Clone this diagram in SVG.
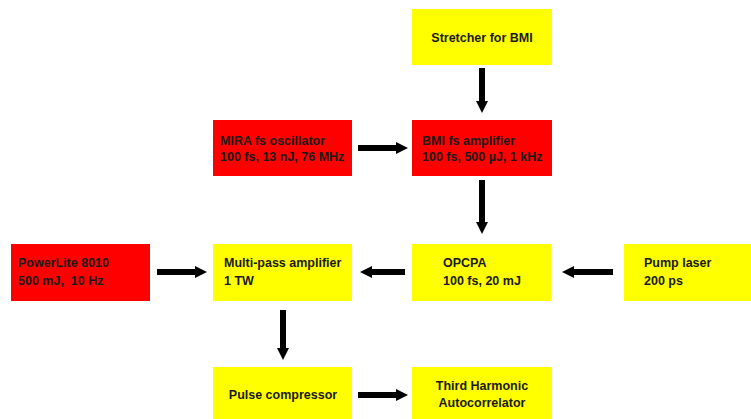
<svg xmlns="http://www.w3.org/2000/svg" width="751" height="419" viewBox="0 0 751 419">
<style>
.y{fill:#ffff00}
.r{fill:#ff0000}
text{font-family:"Liberation Sans",Arial,sans-serif;font-weight:bold;font-size:12.5px;fill:#1a1a1a}
.c{text-anchor:middle}
.a{stroke:#000;stroke-width:6;fill:none}
</style>
<defs>
<marker id="h" viewBox="0 0 12 12" refX="0" refY="6" markerWidth="12" markerHeight="12" orient="auto" markerUnits="userSpaceOnUse">
<path d="M0,0 L12,6 L0,12 Z" fill="#000"/>
</marker>
</defs>
<rect width="751" height="419" fill="#fff"/>
<g id="stretcher"><rect class="y" x="412" y="9" width="140" height="56"/><text class="c" x="482" y="42">Stretcher for BMI</text></g>
<g id="mira"><rect class="r" x="213" y="120" width="139" height="56"/><text x="220" y="145">MIRA fs oscillator</text><text x="220" y="161">100 fs, 13 nJ, 76 MHz</text></g>
<g id="bmi"><rect class="r" x="412" y="120" width="140" height="56"/><text x="422" y="145">BMI fs amplifier</text><text x="422" y="161">100 fs, 500 µJ, 1 kHz</text></g>
<g id="powerlite"><rect class="r" x="11" y="244" width="139" height="57"/><text x="18" y="267">PowerLite 8010</text><text x="18" y="285" xml:space="preserve">500 mJ,  10 Hz</text></g>
<g id="multipass"><rect class="y" x="213" y="244" width="139" height="57"/><text x="224" y="267">Multi-pass amplifier</text><text x="224" y="285">1 TW</text></g>
<g id="opcpa"><rect class="y" x="412" y="244" width="139" height="57"/><text x="443" y="267">OPCPA</text><text x="443" y="285">100 fs, 20 mJ</text></g>
<g id="pump"><rect class="y" x="624" y="244" width="127" height="57"/><text x="644" y="267">Pump laser</text><text x="644" y="285">200 ps</text></g>
<g id="compressor"><rect class="y" x="213" y="367" width="139" height="52"/><text class="c" x="283" y="399">Pulse compressor</text></g>
<g id="autocorrelator"><rect class="y" x="412" y="367" width="140" height="52"/><text class="c" x="482" y="390">Third Harmonic</text><text class="c" x="482" y="407">Autocorrelator</text></g>
<g id="connectors">
<line class="a" x1="482" y1="68" x2="482" y2="101" marker-end="url(#h)"/>
<line class="a" x1="358" y1="148" x2="396" y2="148" marker-end="url(#h)"/>
<line class="a" x1="482" y1="180" x2="482" y2="222" marker-end="url(#h)"/>
<line class="a" x1="613" y1="272" x2="574" y2="272" marker-end="url(#h)"/>
<line class="a" x1="405" y1="272" x2="372" y2="272" marker-end="url(#h)"/>
<line class="a" x1="157" y1="272" x2="195" y2="272" marker-end="url(#h)"/>
<line class="a" x1="283" y1="310" x2="283" y2="348" marker-end="url(#h)"/>
<line class="a" x1="358" y1="395" x2="396" y2="395" marker-end="url(#h)"/>
</g>
</svg>
